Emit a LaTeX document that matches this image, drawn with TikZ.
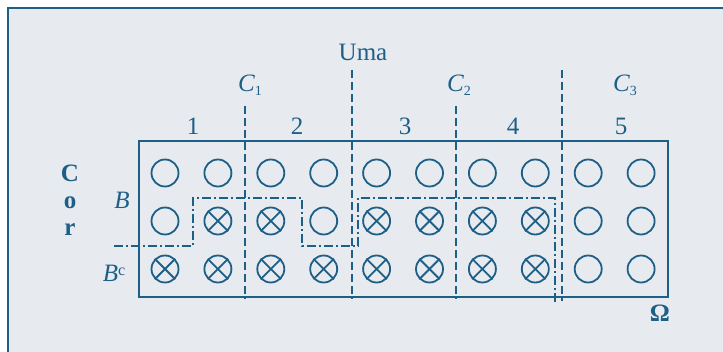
\documentclass[tikz,border=0pt]{standalone}
\usepackage{fontspec}
\setmainfont{Liberation Serif}
\definecolor{ink}{RGB}{30,95,135}
\definecolor{paper}{RGB}{231,235,239}
\begin{document}
\begin{tikzpicture}[x=1pt,y=-1pt,
  lbl/.style={text=ink,font=\fontsize{25}{27}\selectfont,inner sep=0pt},
  bold/.style={font=\fontsize{25}{27}\selectfont\bfseries},
  ball/.style={circle,draw=ink,line width=1.8pt,minimum size=27pt,inner sep=0pt},
  cut/.style={draw=ink,line width=1.4pt,dash pattern=on 8pt off 4pt},
  evt/.style={draw=ink,line width=1.4pt,dash pattern=on 9pt off 3pt on 2pt off 3pt}]
\useasboundingbox (0,0) rectangle (723,352);
\fill[white] (0,0) rectangle (723,352);
\filldraw[fill=paper,draw=ink,line width=2.5pt] (8,8) rectangle (740,370);
% sample space
\draw[ink,line width=1.8pt] (139,141) rectangle (668,297);
% partition lines
\coordinate (c1t) at (245,106); \coordinate (c1b) at (245,299);
\coordinate (umt) at (352,70);  \coordinate (umb) at (352,299);
\coordinate (c2t) at (456,106); \coordinate (c2b) at (456,299);
\coordinate (c3t) at (562,70);  \coordinate (c3b) at (562,301);
\draw[cut] (c1t) -- (c1b);
\draw[cut] (umt) -- (umb);
\draw[cut] (c2t) -- (c2b);
\draw[cut] (c3t) -- (c3b);
% balls
\foreach \i/\a/\b/\c in {1/o/o/x,2/o/x/x,3/o/x/x,4/o/o/x,5/o/x/x,6/o/x/x,7/o/x/x,8/o/x/x,9/o/o/o,10/o/o/o}{
  \pgfmathsetmacro{\xx}{165+52.9*(\i-1)}
  \node[ball] (b\i-1) at (\xx,173) {};
  \node[ball] (b\i-2) at (\xx,221) {};
  \node[ball] (b\i-3) at (\xx,269) {};
  \foreach \r/\t in {1/\a,2/\b,3/\c}{
    \if x\t
      \draw[ink,line width=1.8pt] (b\i-\r.north east) -- (b\i-\r.south west)
        (b\i-\r.north west) -- (b\i-\r.south east);
    \fi
  }
}
% event B boundary
\coordinate (e0) at (114,246);
\coordinate (e1) at (555,302);
\draw[evt] (e0) -- (193,246) -- (193,198) -- (302,198) -- (302,246)
  -- (358,246) -- (358,198) -- (555,198) -- (e1);
% labels
\node[lbl] (uma) at (363,52) {Uma};
\node[lbl] (C1) at (250,85) {\textit{C}\raisebox{-4pt}{\fontsize{14}{14}\selectfont 1}};
\node[lbl] (C2) at (459,85) {\textit{C}\raisebox{-4pt}{\fontsize{14}{14}\selectfont 2}};
\node[lbl] (C3) at (625,85) {\textit{C}\raisebox{-4pt}{\fontsize{14}{14}\selectfont 3}};
\node[lbl] (n1) at (193,126) {1};
\node[lbl] (n2) at (297,126) {2};
\node[lbl] (n3) at (405,126) {3};
\node[lbl] (n4) at (513,126) {4};
\node[lbl] (n5) at (621,126) {5};
\node[lbl,bold] (cC) at (70,173) {C};
\node[lbl,bold] (cO) at (70,203) {o};
\node[lbl,bold] (cR) at (70,230) {r};
\node[lbl] (B) at (122,200) {\textit{B}};
\node[lbl] (Bc) at (114,273) {\textit{B}\raisebox{6pt}{\fontsize{16}{16}\selectfont c}};
\node[lbl,bold] (Om) at (660,313) {Ω};
\end{tikzpicture}
\end{document}
